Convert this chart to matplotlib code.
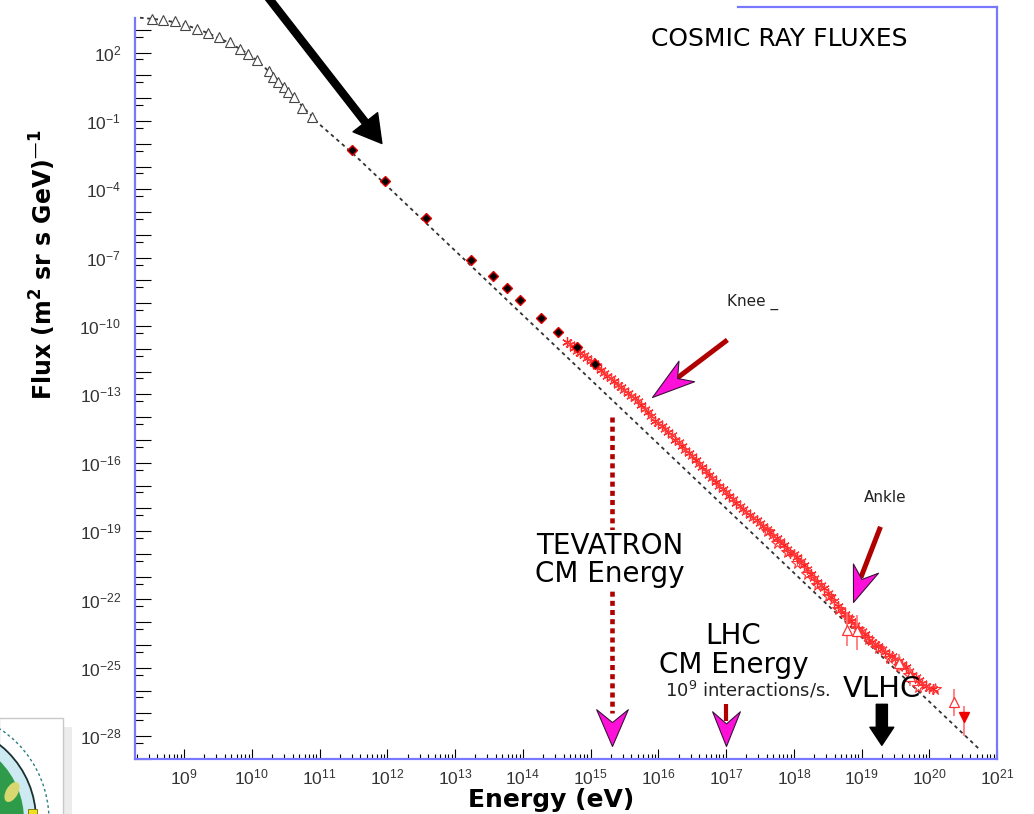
import numpy as np
import matplotlib
matplotlib.use('Agg')
import matplotlib.pyplot as plt
from matplotlib.path import Path
from matplotlib.markers import MarkerStyle
from matplotlib.patches import Circle, Rectangle, Ellipse
from matplotlib.ticker import FixedLocator, FuncFormatter, LogLocator, NullFormatter
import matplotlib.transforms as mtransforms

plt.rcParams['font.family'] = ['DejaVu Sans']
plt.rcParams['mathtext.default'] = 'regular'

# all values are log10(E / eV) and log10(flux / (m^2 sr s GeV)^-1)

# low energy direct measurements (open triangles)
tri_logE = [8.52, 8.69, 8.87, 9.02, 9.19, 9.36, 9.51, 9.68, 9.83, 9.95, 10.07,
            10.25, 10.32, 10.39, 10.47, 10.54, 10.62, 10.74, 10.89]
tri_logF = [3.48, 3.43, 3.37, 3.23, 3.04, 2.85, 2.67, 2.45, 2.16, 1.94, 1.68,
            1.21, 0.92, 0.70, 0.48, 0.26, 0.04, -0.42, -0.83]

# balloon / satellite points (black diamonds)
dia_logE = [11.48, 11.97, 12.57, 13.24, 13.56, 13.77, 13.96, 14.27, 14.52, 14.80, 15.06]
dia_logF = [-2.29, -3.65, -5.27, -7.11, -7.81, -8.34, -8.86, -9.65, -10.26, -10.92, -11.67]

# air shower data (red stars), two overlapping sets
star_logE = [14.65, 14.75, 14.85, 14.95, 15.05, 15.15, 15.25, 15.35, 15.45, 15.55,
             15.65, 15.75, 15.85, 15.95, 16.05, 16.15, 16.25, 16.35, 16.45, 16.55,
             16.65, 16.75, 16.85, 16.95, 17.05, 17.15, 17.25, 17.35, 17.45, 17.55,
             17.65, 17.75, 17.85, 17.95, 18.05, 18.15, 18.25, 18.35, 18.45, 18.55,
             18.65, 18.75, 18.85, 18.95, 19.05, 19.15, 19.25, 19.35, 19.45, 19.55,
             19.65, 19.75, 19.85, 19.95, 20.05]
star_logF = [-10.68, -10.95, -11.18, -11.40, -11.64, -11.92, -12.18, -12.42, -12.68, -12.95,
             -13.15, -13.45, -13.78, -14.15, -14.38, -14.66, -14.98, -15.25, -15.58, -15.90,
             -16.20, -16.52, -16.85, -17.15, -17.44, -17.75, -18.02, -18.28, -18.52, -18.78,
             -19.05, -19.30, -19.62, -19.95, -20.12, -20.48, -20.86, -21.22, -21.50, -21.88,
             -22.28, -22.62, -22.95, -23.28, -23.52, -23.85, -24.05, -24.32, -24.50, -24.72,
             -24.98, -25.30, -25.55, -25.80, -25.93]

star2_logE = [14.70, 14.80, 14.90, 15.00, 15.10, 15.20, 15.30, 15.40, 15.50, 15.60,
              15.70, 15.80, 15.90, 16.00, 16.10, 16.20, 16.30, 16.40, 16.50, 16.60,
              16.70, 16.80, 16.90, 17.00, 17.10, 17.20, 17.30, 17.40, 17.50, 17.60,
              17.70, 17.80, 17.90, 18.00, 18.10, 18.20, 18.30, 18.40, 18.50, 18.60,
              18.70, 18.80, 18.90, 19.00, 19.10, 19.20, 19.30, 19.40, 19.50, 19.60,
              19.70, 19.80, 19.90, 20.00]
star2_logF = [-10.80, -11.08, -11.27, -11.55, -11.76, -12.06, -12.28, -12.57, -12.80, -13.07,
              -13.28, -13.62, -13.95, -14.25, -14.54, -14.80, -15.10, -15.43, -15.72, -16.05,
              -16.38, -16.68, -17.00, -17.30, -17.58, -17.90, -18.14, -18.42, -18.66, -18.90,
              -19.20, -19.45, -19.80, -20.02, -20.32, -20.68, -21.05, -21.36, -21.70, -22.08,
              -22.45, -22.78, -23.12, -23.40, -23.70, -23.95, -24.18, -24.42, -24.60, -24.85,
              -25.15, -25.42, -25.68, -25.88]

# third shower data set (open red markers)
open_logE = [17.60, 17.75, 17.90, 18.05, 18.20, 18.35, 18.50, 18.65, 18.80, 18.95,
             19.10, 19.25, 19.40, 19.55, 19.70, 19.83, 20.09]
open_logF = [-18.98, -19.50, -19.90, -20.40, -20.90, -21.35, -21.85, -22.40, -22.80, -23.30,
             -23.75, -24.15, -24.55, -24.90, -25.30, -25.86, -25.95]

# highest energy points with error bars
err_logE = [18.79, 18.94, 19.55, 19.72, 20.37]
err_logF = [-23.32, -23.40, -24.80, -25.35, -26.52]
err_lo = [-24.06, -24.20, -25.20, -25.80, -27.13]
err_hi = [-22.57, -22.70, -24.40, -24.95, -25.95]

lim_logE = [20.52]
lim_logF = [-27.17]
lim_lo = [-28.00]
lim_hi = [-26.69]

# dashed reference spectrum
ref_logE = [8.35, 8.70, 9.00, 9.35, 9.70, 10.00, 10.30, 10.60, 11.00, 11.50, 20.75]
ref_logF = [3.53, 3.43, 3.24, 2.86, 2.38, 1.85, 1.05, 0.10, -1.15, -2.45, -28.60]

# accelerator equivalent energies
tev_logE = 15.31
lhc_logE = 17.00
vlhc_logE = 19.30

E = lambda v: 10.0 ** np.asarray(v)

fig = plt.figure(figsize=(10.34, 8.14), dpi=100)
ax = fig.add_axes([135 / 1034, 1 - 759 / 814, 862 / 1034, 752 / 814])
ax.set_xscale('log')
ax.set_yscale('log')
ax.set_xlim(10 ** 8.276, 1e21)
ax.set_ylim(1e-29, 1e4)

spine_col = '#7878ff'
for s in ['left', 'bottom', 'right']:
    ax.spines[s].set_color(spine_col)
    ax.spines[s].set_linewidth(1.6)
ax.spines['top'].set_visible(False)
ax.spines['left'].set_bounds(1e-29, 10 ** 3.53)
ax.plot([0.6995, 1.0], [1.0, 1.0], transform=ax.transAxes, color=spine_col,
        lw=1.6, clip_on=False)

ax.xaxis.set_major_locator(FixedLocator(E(np.arange(9, 22))))
ax.xaxis.set_minor_locator(LogLocator(base=10, subs=np.arange(2, 10), numticks=100))
ax.xaxis.set_minor_formatter(NullFormatter())
ax.xaxis.set_major_formatter(FuncFormatter(lambda v, p: r'$10^{%d}$' % round(np.log10(v))))

ax.yaxis.set_major_locator(FixedLocator(E(np.arange(-29, 4))))
ax.yaxis.set_minor_locator(FixedLocator(0.5 * E(np.arange(-28, 4))))
ax.yaxis.set_minor_formatter(NullFormatter())


def ylab(v, p):
    k = int(round(np.log10(v)))
    return r'$10^{%d}$' % k if k % 3 == 2 else ''


ax.yaxis.set_major_formatter(FuncFormatter(ylab))

ax.tick_params(axis='both', which='both', direction='in', color='k', width=0.8,
               top=False, right=False, labelcolor='#333333', labelsize=12.5,
               labelfontfamily='Liberation Sans')
ax.tick_params(axis='x', which='major', length=7.5, pad=6)
ax.tick_params(axis='x', which='minor', length=3.5)
ax.tick_params(axis='y', which='major', length=11.5, pad=10)
ax.tick_params(axis='y', which='minor', length=5.5)

# data
ax.plot(E(ref_logE), E(ref_logF), color='#333333', lw=1.3, ls=(0, (2, 2)), zorder=2)
ax.plot(E(tri_logE), E(tri_logF), '^', ms=6.5, mfc='white', mec='#444444', mew=0.8, zorder=3)
ax.plot(E(star_logE), E(star_logF), ls='none', marker=(6, 2, 0), ms=7.5, mec='#ff2020',
        mew=0.9, zorder=3)
ax.plot(E(star2_logE), E(star2_logF), ls='none', marker=(6, 2, 0), ms=7.5, mec='#ff3a3a',
        mew=0.9, zorder=3)
ax.plot(E(open_logE), E(open_logF), ls='none', marker='*', ms=8.5, mfc='none', mec='#ff3030',
        mew=0.8, zorder=3)
ax.plot(E(dia_logE), E(dia_logF), 'D', ms=5, mfc='black', mec='#e00000', mew=1.0, zorder=4)

ef = E(err_logF)
ax.errorbar(E(err_logE), ef, yerr=[ef - E(err_lo), E(err_hi) - ef], fmt='^', ms=7,
            mfc='white', mec='#ff3030', mew=0.9, ecolor='#ff7070', elinewidth=1.2,
            capsize=0, zorder=3)
lf = E(lim_logF)
ax.errorbar(E(lim_logE), lf, yerr=[lf - E(lim_lo), E(lim_hi) - lf], fmt='v', ms=7,
            mfc='#ee0000', mec='#ee0000', ecolor='#ff7070', elinewidth=1.2,
            capsize=0, zorder=3)


def head_marker(half_width, notch, angle):
    verts = [(0, 0), (half_width, 1), (0, notch), (-half_width, 1), (0, 0)]
    codes = [Path.MOVETO, Path.LINETO, Path.LINETO, Path.LINETO, Path.CLOSEPOLY]
    return MarkerStyle(Path(verts, codes)).rotated(deg=angle)


head_kw = dict(ls='none', mfc='#ff10d8', mec='#3a103a', mew=0.8, zorder=6)
shaft_col = '#b00000'

# Knee
ax.plot(E([17.02, 16.28]), E([-10.61, -12.28]), color=shaft_col, lw=3.6,
        solid_capstyle='butt', zorder=5)
ax.plot(E([15.91]), E([-13.11]), marker=head_marker(0.30, 0.73, -52.8), ms=62, **head_kw)
ax.text(E(17.02), E(-8.95), 'Knee _', fontsize=11, ha='left', va='center', color='#222222')

# Ankle
ax.plot(E([19.28, 18.99]), E([-18.81, -21.04]), color=shaft_col, lw=3.6,
        solid_capstyle='butt', zorder=5)
ax.plot(E([18.87]), E([-22.13]), marker=head_marker(0.37, 0.68, -20.2), ms=52, **head_kw)
ax.text(E(19.35), E(-17.54), 'Ankle', fontsize=11, ha='center', va='center', color='#222222')

# TEVATRON
ax.plot(E([tev_logE, tev_logE]), E([-13.99, -27.0]), color=shaft_col, lw=3.3,
        ls=(0, (1.1, 0.9)), solid_capstyle='butt', zorder=5)
ax.plot(E([tev_logE]), E([-28.42]), marker=head_marker(0.43, 0.65, 0), ms=53, **head_kw)
ax.text(E(15.28), E(-20.25), 'TEVATRON\nCM Energy', fontsize=20, ha='center', va='center',
        linespacing=1.0, zorder=7,
        bbox=dict(facecolor='white', edgecolor='none', pad=1))

# LHC
ax.plot(E([lhc_logE, lhc_logE]), E([-26.60, -27.35]), color=shaft_col, lw=3.0,
        solid_capstyle='butt', zorder=5)
ax.plot(E([lhc_logE]), E([-28.44]), marker=head_marker(0.40, 0.65, 0), ms=50, **head_kw)
ax.text(E(17.11), E(-24.24), 'LHC\nCM Energy', fontsize=20, ha='center', va='center',
        linespacing=1.05)
ax.text(E(17.32), E(-25.99), r'$10^{9}$ interactions/s.', fontsize=13, ha='center',
        va='center', color='#222222')

# VLHC
ax.annotate('', xy=(E(vlhc_logE), E(-28.40)), xytext=(E(vlhc_logE), E(-26.60)),
            arrowprops=dict(arrowstyle='simple,head_width=0.86,head_length=0.65,tail_width=0.4',
                            mutation_scale=20, color='black', shrinkA=0, shrinkB=0), zorder=6)
ax.text(E(vlhc_logE), E(-25.95), 'VLHC', fontsize=21, ha='center', va='center', zorder=7)

# big pointer from the top
ax.annotate('', xy=(E(11.92), E(-1.99)), xytext=(267, 818), textcoords='figure pixels',
            arrowprops=dict(arrowstyle='simple,head_width=1.12,head_length=0.97,tail_width=0.25',
                            mutation_scale=20, color='black', shrinkA=0, shrinkB=0),
            annotation_clip=False, zorder=6)

ax.text(E(17.79), E(2.61), 'COSMIC RAY FLUXES', fontsize=18, ha='center', va='center')

fig.text(43 / 1034, 1 - 265 / 814, 'Flux (m$^{2}$ sr s GeV)$^{\u2014 1}$', rotation=90,
         fontsize=17, fontweight='bold', ha='center', va='center')
fig.text(551 / 1034, 1 - 800 / 814, 'Energy (eV)', fontsize=18, fontweight='bold',
         ha='center', va='center')

# logo corner in the lower left
px = mtransforms.IdentityTransform()
box = Rectangle((-1, -1), 64, 97, transform=px, facecolor='white', edgecolor='#c8c8c8', lw=1)
fig.add_artist(Rectangle((63, -1), 9, 88, transform=px, facecolor='#ececec', edgecolor='none'))
fig.add_artist(box)
logo = [
    Circle((-60, -6), 109, transform=px, facecolor='none', edgecolor='#2a7f7f', lw=1, ls=(0, (2, 2))),
    Circle((-60, -6), 96, transform=px, facecolor='#cdeaf2', edgecolor='#1a3030', lw=1.3),
    Circle((-60, -6), 84, transform=px, facecolor='#2e9b4a', edgecolor='none'),
    Ellipse((12, 22), 12, 22, angle=-30, transform=px, facecolor='#d8d870', edgecolor='none'),
    Rectangle((28, -1), 9, 6, transform=px, facecolor='#f0e020', edgecolor='#707000', lw=0.6),
]
for a in logo:
    fig.add_artist(a)
    a.set_clip_path(box)

plt.savefig('out.png', dpi=100)
plt.close()
